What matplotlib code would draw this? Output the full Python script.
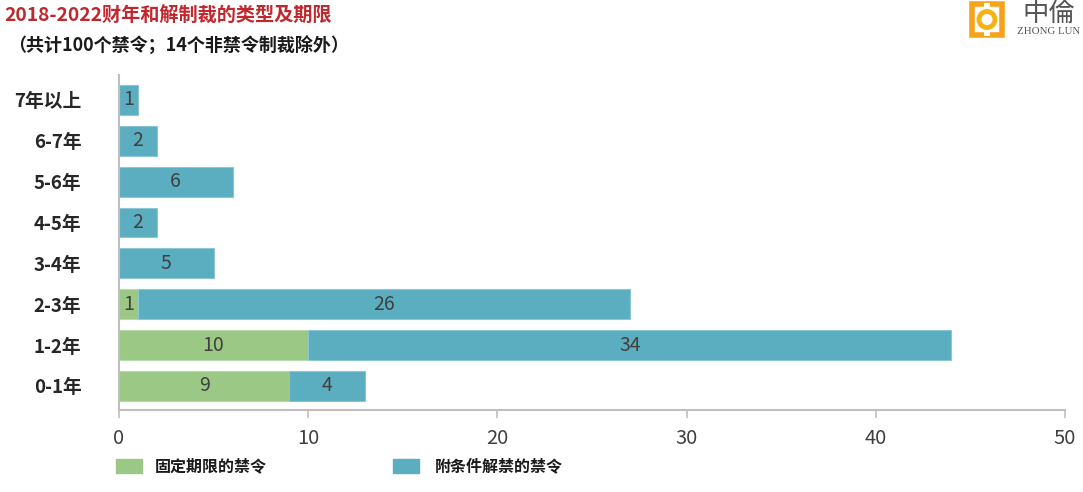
import matplotlib.pyplot as plt
from matplotlib.patches import Rectangle, Ellipse

plt.rcParams['font.family'] = ['Noto Sans CJK SC', 'DejaVu Sans']

categories = ["0-1年", "1-2年", "2-3年", "3-4年", "4-5年", "5-6年", "6-7年", "7年以上"]
fixed = [9, 10, 1, 0, 0, 0, 0, 0]
conditional = [4, 34, 26, 5, 2, 6, 2, 1]
legend_labels = ["固定期限的禁令", "附条件解禁的禁令"]
xticks = [0, 10, 20, 30, 40, 50]

green = "#9bc985"
teal = "#5badc0"
grey_axis = "#bfbfbf"
txt = "#404040"
W, H = 1083, 492


def fx(px):
    return px / W


def fy(py):
    return 1 - py / H


fig = plt.figure(figsize=(10.83, 4.92), dpi=100)
ax = fig.add_axes([fx(119), fy(410), (1065 - 119) / W, (410 - 75) / H])

y = list(range(len(categories)))
h = 0.73
ax.barh(y, fixed, height=h, color=green, edgecolor="#b7dba6", linewidth=0.8)
ax.barh(y, conditional, left=fixed, height=h, color=teal, edgecolor="#8cc6d4", linewidth=0.8)

for i in y:
    if fixed[i] > 0:
        ax.text(fixed[i] / 2, i, str(fixed[i]), ha="center", va="center", fontsize=14, color=txt)
    if conditional[i] > 0:
        ax.text(fixed[i] + conditional[i] / 2, i, str(conditional[i]), ha="center", va="center",
                fontsize=14, color=txt)

ax.set_xlim(0, 50)
ax.set_ylim(-0.59, 7.61)
ax.set_xticks(xticks)
ax.set_xticklabels([str(t) for t in xticks], fontsize=14.5, color=txt)
ax.set_yticks(y)
ax.set_yticklabels(categories, fontsize=13.5, fontweight="semibold", color="#262626")
ax.tick_params(axis="y", length=0, pad=27)
ax.tick_params(axis="x", length=6, width=1.2, color=grey_axis, pad=7)
for s in ["top", "right"]:
    ax.spines[s].set_visible(False)
for s in ["left", "bottom"]:
    ax.spines[s].set_color(grey_axis)
    ax.spines[s].set_linewidth(1.5)

# titles
fig.text(fx(4), fy(16), "2018-2022财年和解制裁的类型及期限", fontsize=13.8, fontweight="bold",
         color="#c0282e", ha="left", va="center")
fig.text(fx(8), fy(46), "（共计100个禁令；14个非禁令制裁除外）", fontsize=13, fontweight="bold",
         color="#1a1a1a", ha="left", va="center")

# legend
fig.patches.append(Rectangle((fx(116), fy(473)), 26 / W, 14 / H, transform=fig.transFigure, color=green))
fig.text(fx(155), fy(466), legend_labels[0], fontsize=11.5, fontweight="bold", color="#1a1a1a",
         ha="left", va="center")
fig.patches.append(Rectangle((fx(393), fy(473)), 26 / W, 14 / H, transform=fig.transFigure, color=teal))
fig.text(fx(435), fy(466), legend_labels[1], fontsize=11.5, fontweight="bold", color="#1a1a1a",
         ha="left", va="center")

# logo
fig.patches.append(Rectangle((fx(972), fy(35)), 30 / W, 31 / H, transform=fig.transFigure,
                             facecolor="none", edgecolor="#f7a21b", linewidth=4))
fig.patches.append(Rectangle((fx(984), fy(36)), 6 / W, 33 / H, transform=fig.transFigure,
                             facecolor="white", edgecolor="none"))
fig.patches.append(Ellipse((fx(987), fy(19.5)), 16 / W, 16 / H, transform=fig.transFigure,
                           facecolor="white", edgecolor="#f5b316", linewidth=3.5))
fig.text(fx(1049), fy(13), "中倫", fontsize=19, color="#555555", ha="center", va="center")
fig.text(fx(1049), fy(32), "ZHONG LUN", fontsize=7.8, color="#555555", ha="center", va="center",
         family=["Liberation Serif", "DejaVu Serif"])

fig.savefig("out.png", dpi=100)
